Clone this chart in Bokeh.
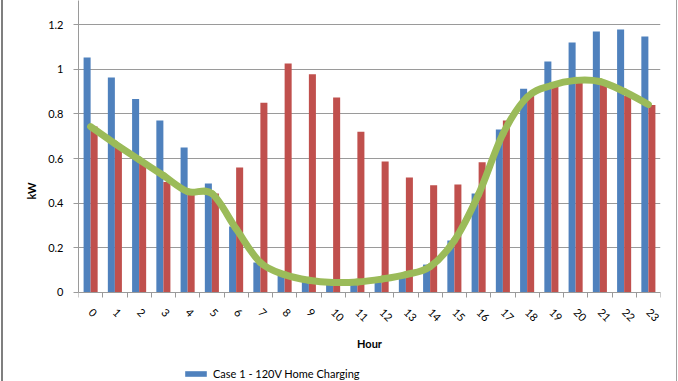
import math
from bokeh.plotting import figure
from bokeh.models import FixedTicker, Legend, LegendItem, Range1d, ColumnDataSource
from bokeh.transform import dodge
from bokeh.embed import file_html
from bokeh.resources import INLINE

# ---- data ----
hours = list(range(24))
hour_labels = [str(h) for h in hours]
case1_blue = [1.052, 0.963, 0.867, 0.770, 0.649, 0.488, 0.296, 0.134, 0.075, 0.050,
              0.040, 0.040, 0.050, 0.065, 0.125, 0.233, 0.443, 0.730, 0.913, 1.034,
              1.120, 1.169, 1.178, 1.146]
case2_red = [0.743, 0.658, 0.578, 0.495, 0.445, 0.443, 0.560, 0.850, 1.025, 0.977,
             0.873, 0.720, 0.587, 0.515, 0.480, 0.484, 0.583, 0.770, 0.880, 0.925,
             0.945, 0.935, 0.880, 0.840]
case3_green = [0.743, 0.667, 0.595, 0.524, 0.452, 0.443, 0.285, 0.134, 0.080, 0.055,
               0.045, 0.047, 0.060, 0.080, 0.116, 0.233, 0.440, 0.710, 0.875, 0.927,
               0.950, 0.945, 0.900, 0.842]
y_ticks = [0, 0.2, 0.4, 0.6, 0.8, 1, 1.2]
y_tick_labels = ["0", "0.2", "0.4", "0.6", "0.8", "1", "1.2"]
legend_label = "Case 1 - 120V Home Charging"
x_title = "Hour"
y_title = "kW"

FONT = "Lato"
BLUE = "#4F81BD"
RED = "#C0504D"
GREEN = "#9BBB59"
GRID = "#9a9a9a"

Y_TOP = 1.3077
Y_BOTTOM = -0.3986   # room below the zero line for the axis labels and legend

p = figure(width=678, height=381, output_backend="svg", toolbar_location=None,
           x_range=Range1d(-0.5, 23.5), y_range=Range1d(Y_BOTTOM, Y_TOP),
           min_border_left=78, min_border_right=18, min_border_top=0,
           min_border_bottom=0)
p.title.visible = False
p.outline_line_color = None
p.background_fill_color = "white"
p.border_fill_color = None
# chart-area border of the original (left and right edges)
p.styles = {
    "background-color": "white",
    "box-shadow": ("inset 1px 0 0 0 white, inset 3px 0 0 0 #7f7f7f, "
                   "inset -1px 0 0 0 white, inset -2px 0 0 0 #a0a0a0"),
}

src = ColumnDataSource(dict(hour=hours, blue=case1_blue, red=case2_red))
bw = 0.29
blue_r = p.vbar(x=dodge("hour", -bw / 2), top="blue", bottom=0, width=bw, source=src,
                fill_color=BLUE, line_color=None)
red_r = p.vbar(x=dodge("hour", bw / 2), top="red", bottom=0, width=bw, source=src,
               fill_color=RED, line_color=None)

# smooth line (Catmull-Rom -> cubic Bezier), as Excel's smoothed line
n = len(hours)
x0, y0, x1, y1, cx0, cy0, cx1, cy1 = [], [], [], [], [], [], [], []
for i in range(n - 1):
    ip = max(i - 1, 0)
    inn = min(i + 2, n - 1)
    x0.append(hours[i]); y0.append(case3_green[i])
    x1.append(hours[i + 1]); y1.append(case3_green[i + 1])
    cx0.append(hours[i] + (hours[i + 1] - hours[ip]) / 6)
    cy0.append(case3_green[i] + (case3_green[i + 1] - case3_green[ip]) / 6)
    cx1.append(hours[i + 1] - (hours[inn] - hours[i]) / 6)
    cy1.append(case3_green[i + 1] - (case3_green[inn] - case3_green[i]) / 6)
p.bezier(x0=x0, y0=y0, x1=x1, y1=y1, cx0=cx0, cy0=cy0, cx1=cx1, cy1=cy1,
         line_color=GREEN, line_width=7, line_cap="round")

# x axis, drawn at y = 0
xa = p.xaxis[0]
xa.fixed_location = 0
xa.ticker = FixedTicker(ticks=hours, minor_ticks=[h - 0.5 for h in range(25)])
xa.major_label_overrides = dict(zip(hours, hour_labels))
xa.major_tick_line_color = None
xa.minor_tick_line_color = GRID
xa.minor_tick_in = 0
xa.minor_tick_out = 5
xa.axis_line_color = GRID
xa.major_label_orientation = -math.pi / 4
xa.major_label_text_font = FONT
xa.major_label_text_font_size = "11px"
xa.major_label_text_color = "black"
xa.major_label_standoff = 12
xa.axis_label = x_title
xa.axis_label_text_font = FONT
xa.axis_label_text_font_size = "11px"
xa.axis_label_text_font_style = "bold"
xa.axis_label_text_color = "black"
xa.axis_label_standoff = 9

# y axis, line only from 0 upward
ya = p.yaxis[0]
ya.bounds = (0, Y_TOP)
ya.ticker = FixedTicker(ticks=y_ticks)
ya.major_label_overrides = dict(zip(y_ticks, y_tick_labels))
ya.minor_tick_line_color = None
ya.major_tick_line_color = GRID
ya.major_tick_in = 0
ya.major_tick_out = 5
ya.axis_line_color = GRID
ya.major_label_text_font = FONT
ya.major_label_text_font_size = "11px"
ya.major_label_text_color = "black"
ya.major_label_standoff = 10
ya.axis_label = y_title
ya.axis_label_text_font = FONT
ya.axis_label_text_font_size = "11px"
ya.axis_label_text_font_style = "bold"
ya.axis_label_text_color = "black"
ya.axis_label_standoff = 7

p.xgrid.grid_line_color = None
p.ygrid.ticker = FixedTicker(ticks=y_ticks)
p.ygrid.grid_line_color = GRID

legend = Legend(items=[LegendItem(label=legend_label, renderers=[blue_r])],
                location=(104, 1), orientation="horizontal", padding=0, margin=0,
                border_line_color=None, background_fill_alpha=0,
                glyph_width=27, glyph_height=7, label_height=12,
                label_text_font=FONT, label_text_font_size="11px",
                label_text_color="black", label_standoff=4, spacing=0)
p.add_layout(legend)

open("out.html", "w").write(file_html(p, INLINE))
